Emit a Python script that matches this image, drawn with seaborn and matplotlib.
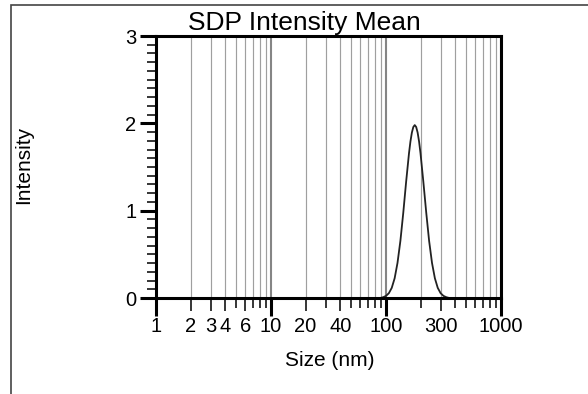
import matplotlib
matplotlib.use("Agg")
import matplotlib.pyplot as plt
import matplotlib.ticker as mticker
from matplotlib.patches import Rectangle
import pandas as pd
import seaborn as sns

# size distribution
size_nm = [89.1, 94.4, 100.0, 105.9, 112.2, 118.9, 125.9, 133.4, 141.3, 149.6,
           158.5, 163.1, 167.9, 172.8, 177.8, 183.0, 188.4, 193.9, 199.5,
           211.3, 223.9, 237.1, 251.2, 266.1, 281.8, 298.5, 316.2, 335.0, 354.8]
intensity = [0.0, 0.009, 0.024, 0.055, 0.116, 0.226, 0.402, 0.654, 0.975, 1.329,
             1.658, 1.792, 1.894, 1.958, 1.98, 1.958, 1.894, 1.792, 1.658,
             1.329, 0.975, 0.654, 0.402, 0.226, 0.116, 0.055, 0.024, 0.009, 0.0]

x_major = [1, 10, 100, 1000]
x_minor = [2, 3, 4, 5, 6, 7, 8, 9,
           20, 30, 40, 50, 60, 70, 80, 90,
           200, 300, 400, 500, 600, 700, 800, 900]
x_minor_labeled = [2, 3, 4, 6, 20, 40, 300]
y_major = [0, 1, 2, 3]

df = pd.DataFrame({'size': size_nm, 'intensity': intensity})

sns.set_theme(style='white')
plt.rcParams['font.family'] = ['Liberation Sans', 'DejaVu Sans']

W, H = 588, 394
fig = plt.figure(figsize=(W / 100, H / 100), dpi=100)
ax = fig.add_axes([156 / W, 1 - 298 / H, 345 / W, 262 / H])

sns.lineplot(data=df, x='size', y='intensity', ax=ax, color='#222222', lw=1.3)

ax.set_xscale('log')
ax.set_xlim(1, 1000)
ax.set_ylim(0, 3)

ax.xaxis.set_major_locator(mticker.FixedLocator(x_major))
ax.xaxis.set_major_formatter(mticker.FixedFormatter([str(v) for v in x_major]))
ax.xaxis.set_minor_locator(mticker.FixedLocator(x_minor))
ax.xaxis.set_minor_formatter(mticker.FixedFormatter(
    [str(v) if v in x_minor_labeled else '' for v in x_minor]))
ax.yaxis.set_major_locator(mticker.FixedLocator(y_major))
ax.yaxis.set_minor_locator(mticker.MultipleLocator(0.1))

ax.grid(True, which='major', axis='x', color='#858585', lw=1.5)
ax.grid(True, which='minor', axis='x', color='#9f9f9f', lw=0.85)
ax.grid(False, axis='y')
ax.set_axisbelow(True)

for sp in ax.spines.values():
    sp.set_linewidth(2.2)
    sp.set_color('black')

ax.tick_params(which='both', bottom=True, left=True, colors='black', direction='out')
ax.tick_params(axis='x', which='major', length=13, width=2.2, pad=1, labelsize=14.5)
ax.tick_params(axis='x', which='minor', length=9.4, width=1.1, pad=4.6, labelsize=14.5)
ax.tick_params(axis='y', which='major', length=11.5, width=2.2, pad=2.5, labelsize=14.5)
ax.tick_params(axis='y', which='minor', length=6.5, width=1.1)

for t, loc in zip(ax.xaxis.get_minor_ticks(), x_minor):
    if loc not in x_minor_labeled:
        t.tick1line.set_markersize(7.5)

ax.set_xlabel('Size (nm)', fontsize=15, color='black')
ax.xaxis.set_label_coords((330 - 156) / 345, (298 - 361) / 262)
ax.xaxis.label.set_va('center')
ax.set_ylabel('Intensity', fontsize=15, color='black')
ax.yaxis.set_label_coords((24 - 156) / 345, (298 - 165) / 262)
ax.yaxis.label.set_va('center')

ax.set_title('SDP Intensity Mean', fontsize=19, color='black',
             x=(304.5 - 156) / 345, pad=4)

# report frame around the chart
fig.add_artist(Rectangle((11 / W, -0.1), 1.2, 1.1 - 5 / H, transform=fig.transFigure,
                         fill=False, ec='#444444', lw=1.2, clip_on=False))

fig.savefig('out.png', dpi=100)
